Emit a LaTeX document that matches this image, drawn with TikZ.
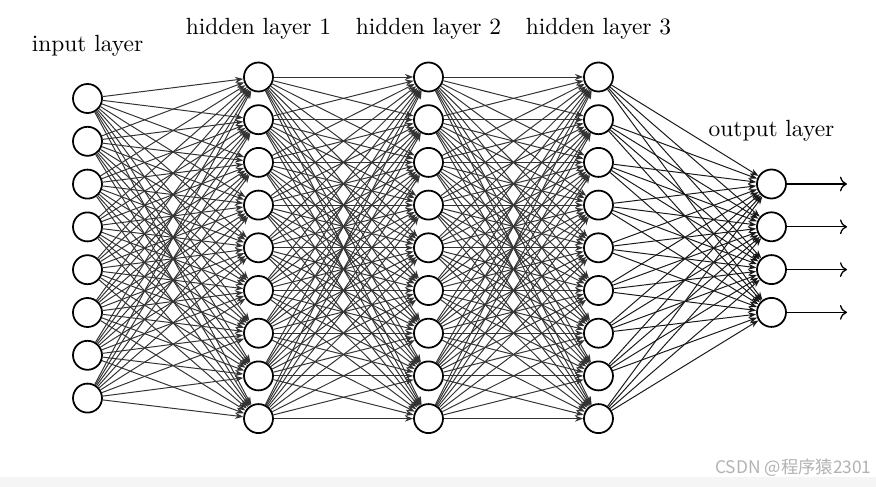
\documentclass[tikz,border=0pt]{standalone}
\usepackage{fontspec}
\newfontfamily\cjkfont{Noto Sans CJK SC}
\usetikzlibrary{arrows.meta}

\begin{document}
\begin{tikzpicture}[
    x=0.015cm, y=-0.015cm,
    neuron/.style={circle, draw, line width=0.75pt, fill=white, minimum size=0.435cm, inner sep=0pt},
    edge/.style={-{Stealth[length=3.5pt,width=2.6pt]}, black!80, line width=0.42pt},
    outarrow/.style={-{To[length=3pt]}, line width=0.55pt},
    layerlabel/.style={anchor=base}
]
    \fill[black!4] (0,477) rectangle (876,487);
    \useasboundingbox (0,0) rectangle (876,487);

    % neurons
    \foreach \i in {1,...,8}
        \node[neuron] (I-\i) at (87.5, {98.5+42.8*(\i-1)}) {};
    \foreach \l/\x in {1/258.5, 2/428.5, 3/598.5}
        \foreach \i in {1,...,9}
            \node[neuron] (H\l-\i) at (\x, {77+42.7*(\i-1)}) {};
    \foreach \i in {1,...,4} {
        \node[neuron] (O-\i) at (771.5, {184+42.8*(\i-1)}) {};
        \coordinate (Y-\i) at (847, {184+42.8*(\i-1)});
    }

    % connections
    \foreach \i in {1,...,8}
        \foreach \j in {1,...,9}
            \draw[edge] (I-\i) -- (H1-\j);
    \foreach \i in {1,...,9}
        \foreach \j in {1,...,9} {
            \draw[edge] (H1-\i) -- (H2-\j);
            \draw[edge] (H2-\i) -- (H3-\j);
        }
    \foreach \i in {1,...,9}
        \foreach \j in {1,...,4}
            \draw[edge, black!90] (H3-\i) -- (O-\j);
    \foreach \i in {1,...,4}
        \draw[outarrow] (O-\i) -- (Y-\i);

    % labels
    \node[layerlabel] (lin) at (87.5, 52) {input layer};
    \node[layerlabel] (lh1) at (258.5, 35) {hidden layer 1};
    \node[layerlabel] (lh2) at (428.5, 35) {hidden layer 2};
    \node[layerlabel] (lh3) at (598.5, 35) {hidden layer 3};
    \node[layerlabel] (lout) at (771.5, 137) {output layer};

    \node[anchor=base east, inner sep=0pt, text=black!30, font=\cjkfont\fontsize{7.4}{9}\selectfont] (mark) at (872, 474) {CSDN @程序猿2301};
\end{tikzpicture}
\end{document}
